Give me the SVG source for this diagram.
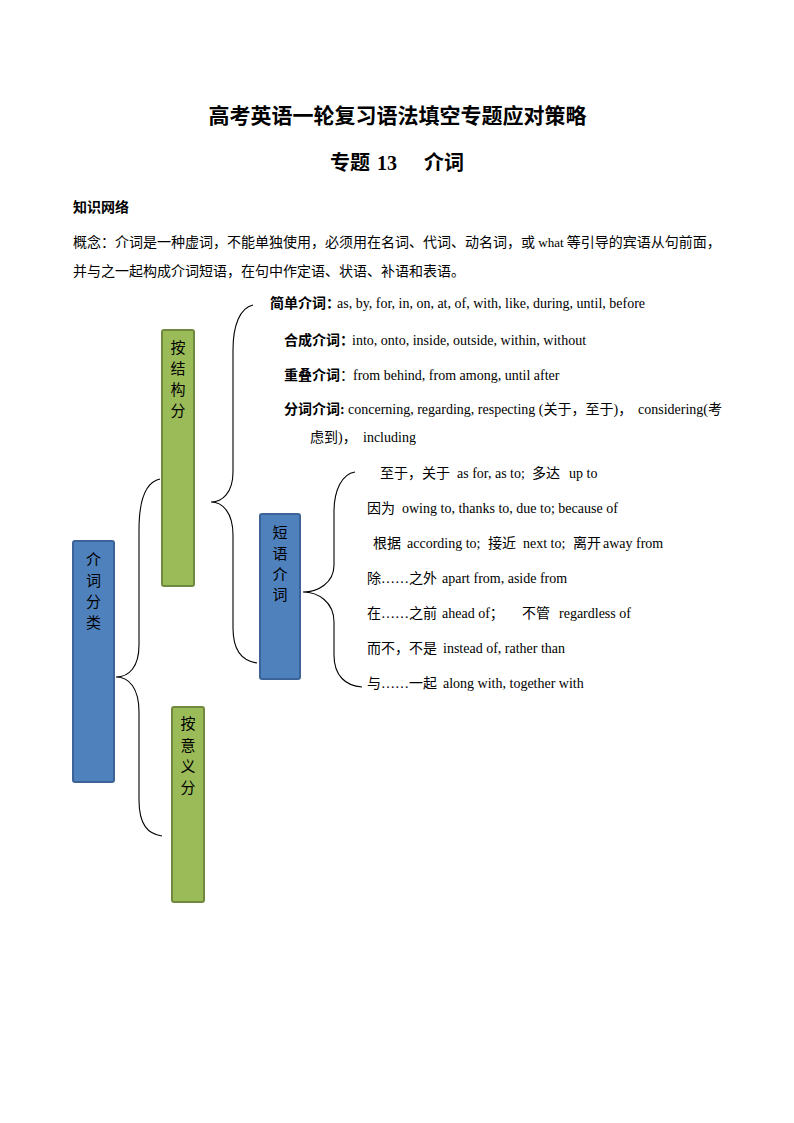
<svg xmlns="http://www.w3.org/2000/svg" width="794" height="1123" viewBox="0 0 794 1123">
<style>
  .t { font-family: "Liberation Serif", "Noto Sans CJK SC", serif; font-size: 14px; fill: #000; }
  .b { font-weight: bold; }
  .h1 { font-family: "Liberation Serif", "Noto Sans CJK SC", serif; font-size: 21px; font-weight: bold; fill: #000; }
  .h2 { font-family: "Liberation Serif", "Noto Sans CJK SC", serif; font-size: 20px; font-weight: bold; fill: #000; }
  .blue { fill: #4F81BD; stroke: #3B6397; stroke-width: 2; }
  .green { fill: #9BBB59; stroke: #71893F; stroke-width: 2; }
  .lbl { font-family: "Noto Sans CJK SC", sans-serif; font-size: 15px; fill: #000; text-anchor: middle; }
  .brace { fill: none; stroke: #000; stroke-width: 1.1; }
</style>
<rect width="794" height="1123" fill="#fff"/>

<g id="header">
  <text class="h1" x="397.5" y="123" text-anchor="middle">高考英语一轮复习语法填空专题应对策略</text>
  <text class="h2" y="170"><tspan x="330">专题</tspan><tspan x="377">13</tspan><tspan x="424">介词</tspan></text>
  <text class="t b" x="73" y="212">知识网络</text>
  <text class="t" x="73" y="247">概念：介词是一种虚词，不能单独使用，必须用在名词、代词、动名词，或<tspan font-size="13"> what </tspan>等引导的宾语从句前面，</text>
  <text class="t" x="73" y="276">并与之一起构成介词短语，在句中作定语、状语、补语和表语。</text>
</g>

<g id="connectors">
  <path class="brace" d="M160,479 C146,482 139,500 139,530 L139,645 C139,667 129,677 116,677 C129,677 139,688 139,712 L139,800 C139,825 148,834 162,836"/>
  <path class="brace" d="M253,305 C240,308 233,325 233,350 L233,472 C233,493 222,502 211,502 C222,502 233,512 233,535 L233,628 C233,652 243,661 257,663"/>
  <path class="brace" d="M355,472 C342,474 334,490 334,512 L334,565 C334,583 318,592 303,592 C318,592 334,602 334,622 L334,655 C334,676 346,686 362,687"/>
</g>

<g id="node-jieci-fenlei">
  <rect class="blue" x="73" y="541" width="41" height="241" rx="2"/>
  <text class="lbl" x="93.5" y="565">介</text>
  <text class="lbl" x="93.5" y="586">词</text>
  <text class="lbl" x="93.5" y="607">分</text>
  <text class="lbl" x="93.5" y="628">类</text>
</g>

<g id="node-an-jiegou">
  <rect class="green" x="162" y="330" width="32" height="256" rx="2"/>
  <text class="lbl" x="178" y="353">按</text>
  <text class="lbl" x="178" y="374">结</text>
  <text class="lbl" x="178" y="395">构</text>
  <text class="lbl" x="178" y="416">分</text>
</g>

<g id="node-an-yiyi">
  <rect class="green" x="172" y="707" width="32" height="195" rx="2"/>
  <text class="lbl" x="188" y="729">按</text>
  <text class="lbl" x="188" y="751">意</text>
  <text class="lbl" x="188" y="772">义</text>
  <text class="lbl" x="188" y="793">分</text>
</g>

<g id="node-duanyu-jieci">
  <rect class="blue" x="260" y="514" width="40" height="165" rx="2"/>
  <text class="lbl" x="280" y="538">短</text>
  <text class="lbl" x="280" y="559">语</text>
  <text class="lbl" x="280" y="580">介</text>
  <text class="lbl" x="280" y="600">词</text>
</g>

<g id="node-jiandan">
  <text class="t" y="308"><tspan x="270" font-weight="bold">简单介词：</tspan><tspan x="337">as, by, for, in, on, at, of, with, like, during, until, before</tspan></text>
</g>
<g id="node-hecheng">
  <text class="t" y="345"><tspan x="284" font-weight="bold">合成介词：</tspan><tspan x="352">into, onto, inside, outside, within, without</tspan></text>
</g>
<g id="node-chongdie">
  <text class="t" y="380"><tspan x="284" font-weight="bold">重叠介词</tspan><tspan>：</tspan><tspan x="353">from behind, from among, until after</tspan></text>
</g>
<g id="node-fenci">
  <text class="t" y="414"><tspan x="284" font-weight="bold">分词介词:</tspan><tspan x="348">concerning, regarding, respecting (关于，至于)，</tspan><tspan x="638">considering(考</tspan></text>
  <text class="t" y="442"><tspan x="310">虑到)，</tspan><tspan x="363">including</tspan></text>
</g>

<g id="node-phrases">
  <text class="t" y="478"><tspan x="380">至于，关于</tspan><tspan x="457">as for, as to;</tspan><tspan x="532">多达</tspan><tspan x="569">up to</tspan></text>
  <text class="t" y="513"><tspan x="367">因为</tspan><tspan x="402">owing to, thanks to, due to; because of</tspan></text>
  <text class="t" y="548"><tspan x="373">根据</tspan><tspan x="407">according to;</tspan><tspan x="488">接近</tspan><tspan x="523">next to;</tspan><tspan x="573">离开</tspan><tspan x="603">away from</tspan></text>
  <text class="t" y="583"><tspan x="367">除……之外</tspan><tspan x="442">apart from, aside from</tspan></text>
  <text class="t" y="618"><tspan x="367">在……之前</tspan><tspan x="442">ahead of；</tspan><tspan x="522">不管</tspan><tspan x="559">regardless of</tspan></text>
  <text class="t" y="653"><tspan x="367">而不，不是</tspan><tspan x="443">instead of, rather than</tspan></text>
  <text class="t" y="688"><tspan x="367">与……一起</tspan><tspan x="443">along with, together with</tspan></text>
</g>
</svg>
